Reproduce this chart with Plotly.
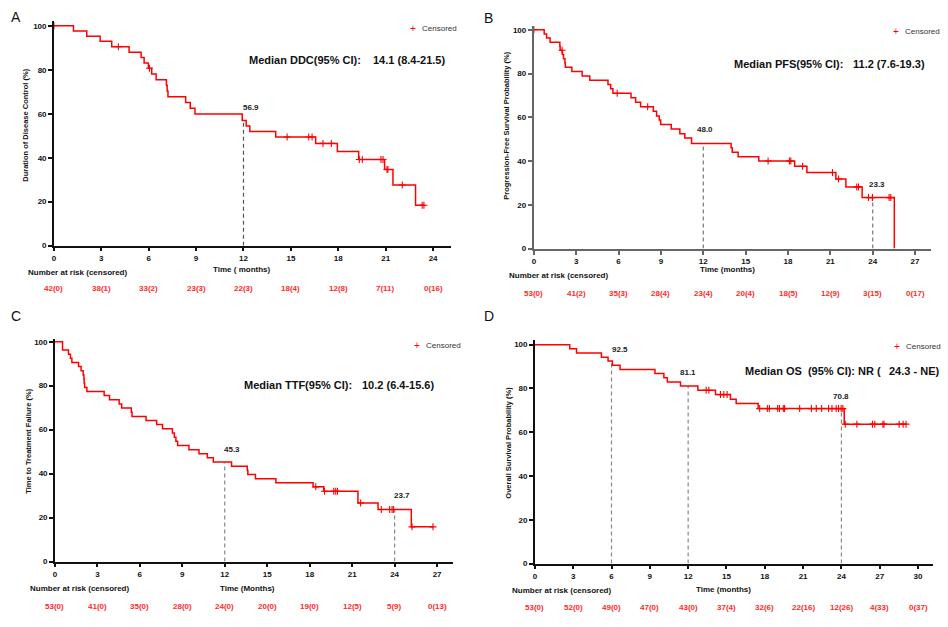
import plotly.graph_objects as go

W, H = 948, 627
FONT = "Liberation Sans, Arial, sans-serif"
RED = "#ff0000"

# ---------------- DATA ----------------
# Panel A: Duration of Disease Control
a_event_t = [1.24, 2.08, 2.93, 3.66, 4.76, 5.52, 5.71, 5.98, 6.19, 6.47, 7.12, 7.17, 7.22,
             8.34, 8.63, 8.93, 11.92, 12.17, 12.40, 14.04, 16.57, 17.94, 19.29, 20.93, 21.46, 22.89]
a_event_s = [97.6, 95.2, 92.9, 90.5, 88.0, 85.6, 83.1, 80.7, 78.1, 75.5, 72.9, 70.3, 67.7,
             65.1, 62.5, 59.9, 56.9, 54.4, 51.9, 49.4, 46.5, 42.8, 39.2, 34.6, 27.6, 18.4]
a_cens_t = [0.0, 4.08, 6.05, 14.76, 16.13, 16.34, 17.03, 17.56, 19.33, 19.52, 20.70, 20.83,
            21.08, 21.14, 22.05, 23.31, 23.42]
a_end = 23.42
a_ticks = [0, 3, 6, 9, 12, 15, 18, 21, 24]
a_risk = ["42(0)", "38(1)", "33(2)", "23(3)", "22(3)", "18(4)", "12(8)", "7(11)", "0(16)"]
a_land_t = [12]
a_land_s = [56.9]
a_land_lbl = ["56.9"]

# Panel B: Progression-Free Survival
b_event_t = [0.73, 0.90, 1.15, 1.84, 1.86, 2.02, 2.10, 2.20, 2.23, 2.69, 3.42, 3.96, 5.25, 5.44,
             5.60, 6.88, 7.21, 7.56, 8.46, 8.69, 8.88, 8.98, 9.73, 10.34, 10.69, 11.17, 13.97,
             14.05, 14.47, 15.93, 18.47, 19.34, 21.39, 22.10, 23.25, 25.53]
b_event_s = [98.1, 96.2, 94.3, 92.5, 90.6, 88.7, 86.7, 84.8, 82.8, 80.9, 78.9, 76.9, 75.0, 73.0,
             71.0, 68.9, 66.9, 64.8, 62.7, 60.6, 58.8, 56.7, 54.6, 52.5, 50.5, 48.0, 46.1,
             44.0, 42.0, 40.0, 37.6, 34.8, 31.8, 28.2, 23.3, 0.0]
b_cens_t = [0.0, 2.00, 5.90, 8.06, 16.59, 18.10, 18.20, 19.03, 21.15, 21.58, 22.87, 22.99,
            23.70, 23.98, 25.16, 25.28]
b_end = 25.53
b_ticks = [0, 3, 6, 9, 12, 15, 18, 21, 24, 27]
b_risk = ["53(0)", "41(2)", "35(3)", "28(4)", "23(4)", "20(4)", "18(5)", "12(9)", "3(15)", "0(17)"]
b_land_t = [12, 24]
b_land_s = [48.0, 23.3]
b_land_lbl = ["48.0", "23.3"]

# Panel C: Time to Treatment Failure
c_event_t = [0.54, 0.96, 1.10, 1.20, 1.67, 1.85, 2.00, 2.05, 2.07, 2.10, 2.26, 3.48, 3.86, 4.54,
             4.72, 5.40, 5.45, 6.44, 7.19, 7.60, 8.30, 8.44, 8.55, 8.67, 9.47, 10.18, 10.77,
             11.19, 12.48, 13.59, 13.63, 14.17, 15.61, 18.24, 18.99, 21.41, 22.83, 25.18]
c_event_s = [96.2, 94.3, 92.5, 90.6, 88.7, 86.8, 84.9, 83.0, 81.1, 79.2, 77.4, 75.5, 73.6, 71.7,
             69.8, 67.9, 66.0, 64.2, 62.3, 60.4, 58.5, 56.6, 54.7, 52.8, 50.9, 49.1, 47.2,
             45.3, 43.4, 41.5, 39.6, 37.7, 35.8, 34.0, 32.0, 26.7, 23.7, 15.8]
c_cens_t = [18.43, 19.05, 19.70, 19.84, 19.96, 21.60, 23.06, 23.65, 23.82, 23.93, 25.23, 26.71]
c_end = 26.71
c_ticks = [0, 3, 6, 9, 12, 15, 18, 21, 24, 27]
c_risk = ["53(0)", "41(0)", "35(0)", "28(0)", "24(0)", "20(0)", "19(0)", "12(5)", "5(9)", "0(13)"]
c_land_t = [12, 24]
c_land_s = [45.3, 23.7]
c_land_lbl = ["45.3", "23.7"]

# Panel D: Overall Survival
d_event_t = [2.73, 3.26, 5.21, 5.73, 6.07, 6.67, 9.40, 10.10, 10.37, 11.40, 12.76, 14.14,
             15.31, 15.76, 17.48, 24.22]
d_event_s = [98.1, 96.2, 94.3, 92.5, 90.6, 88.7, 86.8, 84.9, 83.0, 81.1, 79.2, 77.2,
             75.1, 73.1, 70.8, 63.7]
d_cens_t = [13.41, 13.62, 14.53, 14.79, 15.05, 17.60, 18.20, 18.36, 19.01, 19.15, 19.45,
            19.55, 20.73, 21.65, 22.03, 22.45, 22.99, 23.26, 23.59, 23.77, 23.98, 24.11,
            24.30, 25.21, 26.43, 26.61, 27.25, 27.33, 28.52, 28.83, 29.06]
d_end = 29.06
d_ticks = [0, 3, 6, 9, 12, 15, 18, 21, 24, 27, 30]
d_risk = ["53(0)", "52(0)", "49(0)", "47(0)", "43(0)", "37(4)", "32(6)", "22(16)", "12(26)",
          "4(33)", "0(37)"]
d_land_t = [6, 12, 24]
d_land_s = [92.5, 81.1, 70.8]
d_land_lbl = ["92.5", "81.1", "70.8"]

# ---------------- LAYOUT GEOMETRY (pixels) ----------------
panels = [
    dict(k="", letter="A", ev_t=a_event_t, ev_s=a_event_s, cens=a_cens_t, end=a_end, ticks=a_ticks,
         risk=a_risk, lt=a_land_t, ls=a_land_s, ll=a_land_lbl,
         x0=52, x1=450, xt=432, tmax=24, y0=247, y100=25, ytop=20, axcol="#111", axw=1.5,
         ytitle="Duration of Disease Control (%)", ytx=24, yty=125,
         xtitle="Time ( months)", xtx=241, xty=271, nar_x=24, nar_y=274, risk_y=290,
         med1="Median DDC(95% CI):", med2="14.1 (8.4-21.5)", mx1=246, mx2=370, my=60,
         legx=412, legy=28, letx=14, lety=16, landcol="#555"),
    dict(k="2", letter="B", ev_t=b_event_t, ev_s=b_event_s, cens=b_cens_t, end=b_end, ticks=b_ticks,
         risk=b_risk, lt=b_land_t, ls=b_land_s, ll=b_land_lbl,
         x0=533, x1=931, xt=915, tmax=27, y0=250, y100=29, ytop=25, axcol="#666", axw=2,
         ytitle="Progression-Free Survival Probability (%)", ytx=506, yty=126,
         xtitle="Time (months)", xtx=727, xty=271, nar_x=506, nar_y=277, risk_y=295,
         med1="Median PFS(95% CI):", med2="11.2 (7.6-19.3)", mx1=732, mx2=851, my=64,
         legx=896, legy=31, letx=488, lety=17, landcol="#777"),
    dict(k="3", letter="C", ev_t=c_event_t, ev_s=c_event_s, cens=c_cens_t, end=c_end, ticks=c_ticks,
         risk=c_risk, lt=c_land_t, ls=c_land_s, ll=c_land_lbl,
         x0=53, x1=452, xt=436, tmax=27, y0=566, y100=344, ytop=341, axcol="#111", axw=1.5,
         ytitle="Time to Treatment Failure (%)", ytx=27, yty=444,
         xtitle="Time (Months)", xtx=246, xty=593, nar_x=26, nar_y=593, risk_y=611,
         med1="Median TTF(95% CI):", med2="10.2 (6.4-15.6)", mx1=241, mx2=359, my=388,
         legx=416, legy=348, letx=14, lety=318, landcol="#888"),
    dict(k="4", letter="D", ev_t=d_event_t, ev_s=d_event_s, cens=d_cens_t, end=d_end, ticks=d_ticks,
         risk=d_risk, lt=d_land_t, ls=d_land_s, ll=d_land_lbl,
         x0=534, x1=933, xt=918, tmax=30, y0=568, y100=347, ytop=342, axcol="#111", axw=1.5,
         ytitle="Overall Survival Probability (%)", ytx=508, yty=446,
         xtitle="Time (months)", xtx=723, xty=594, nar_x=509, nar_y=595, risk_y=612,
         med1="Median OS  (95% CI): NR (", med2="24.3 - NE)", mx1=743, mx2=887, my=374,
         legx=897, legy=349, letx=488, lety=318, landcol="#888"),
]

landmark_pos = {"A": [(12.45, 63)], "B": [(12.1, 54.3), (24.3, 29.4)],
                "C": [(12.5, 50.8), (24.5, 30.2)], "D": [(6.64, 97.6), (12.0, 87.3), (23.96, 76.3)]}


def surv_at(ev_t, ev_s, t):
    s = 100.0
    for et, es in zip(ev_t, ev_s):
        if et <= t:
            s = es
    return s


def py(p):
    return 1 - p / H


def px(p):
    return p / W


def ann(x, y, text, xref="paper", yref="paper", xanchor="center", size=8, color="#111", **kw):
    return dict(x=x, y=y, xref=xref, yref=yref, text=text, showarrow=False,
                xanchor=xanchor, yanchor="middle",
                font=dict(family=FONT, size=size, color=color), **kw)


fig = go.Figure()
annotations = []
layout_axes = {}

for p in panels:
    k = p["k"]
    xa, ya = "x" + k, "y" + k
    # landmark dashed lines
    for t, s in zip(p["lt"], p["ls"]):
        fig.add_trace(go.Scatter(x=[t, t], y=[0, s], mode="lines", xaxis=xa, yaxis=ya,
                                 line=dict(color=p["landcol"], width=1.2, dash="4px,3px"),
                                 hoverinfo="skip", showlegend=False))
    # KM step curve
    xs = [0] + p["ev_t"] + [p["end"]]
    ys = [100] + p["ev_s"] + [p["ev_s"][-1]]
    fig.add_trace(go.Scatter(x=xs, y=ys, mode="lines", line_shape="hv", xaxis=xa, yaxis=ya,
                             line=dict(color=RED, width=1.5), showlegend=False))
    # censor marks
    cy = [surv_at(p["ev_t"], p["ev_s"], t) for t in p["cens"]]
    fig.add_trace(go.Scatter(x=p["cens"], y=cy, mode="markers", xaxis=xa, yaxis=ya,
                             marker=dict(symbol="cross-thin", size=5,
                                         line=dict(color=RED, width=1.1)),
                             showlegend=False))

    tmax_range = p["tmax"] * (p["x1"] - p["x0"]) / (p["xt"] - p["x0"])
    ymax_range = 100 * (p["y0"] - p["ytop"]) / (p["y0"] - p["y100"])
    axis_common = dict(showline=True, linecolor=p["axcol"], linewidth=p["axw"], ticks="outside",
                       ticklen=4, tickwidth=p["axw"], tickcolor=p["axcol"], showgrid=False,
                       zeroline=False,
                       tickfont=dict(family=FONT, size=8, color="#111", weight="bold"))
    layout_axes["xaxis" + k] = dict(axis_common, domain=[px(p["x0"]), px(p["x1"])],
                                    range=[0, tmax_range], tickvals=p["ticks"], anchor=ya)
    layout_axes["yaxis" + k] = dict(axis_common, domain=[py(p["y0"]), py(p["ytop"])],
                                    range=[0, ymax_range], tickvals=[0, 20, 40, 60, 80, 100],
                                    anchor=xa)

    # landmark labels
    for (lx, ly), txt in zip(landmark_pos[p["letter"]], p["ll"]):
        annotations.append(ann(lx, ly, "<b>%s</b>" % txt, xref=xa, yref=ya, color="#222"))
    # number at risk
    for t, r in zip(p["ticks"], p["risk"]):
        annotations.append(ann(t, py(p["risk_y"]), "<b>%s</b>" % r, xref=xa, color="#ff2a2a"))
    annotations.append(ann(px(p["nar_x"]), py(p["nar_y"]), "<b>Number at risk (censored)</b>",
                           xanchor="left"))
    annotations.append(ann(px(p["xtx"]), py(p["xty"]), "<b>%s</b>" % p["xtitle"]))
    annotations.append(ann(px(p["ytx"]), py(p["yty"]), "<b>%s</b>" % p["ytitle"],
                           size=7.5, textangle=-90))
    annotations.append(ann(px(p["mx1"]), py(p["my"]), "<b>%s</b>" % p["med1"],
                           xanchor="left", size=11))
    annotations.append(ann(px(p["mx2"]), py(p["my"]), "<b>%s</b>" % p["med2"],
                           xanchor="left", size=11))
    annotations.append(ann(px(p["legx"]), py(p["legy"]), "+", size=10, color=RED))
    annotations.append(ann(px(p["legx"] + 7), py(p["legy"]), "Censored", xanchor="left",
                           color="#333"))
    annotations.append(ann(px(p["letx"]), py(p["lety"]), p["letter"], size=14))

fig.update_layout(width=W, height=H, margin=dict(l=0, r=0, t=0, b=0),
                  paper_bgcolor="white", plot_bgcolor="white", showlegend=False,
                  annotations=annotations, **layout_axes)

fig.write_html("out.html")
